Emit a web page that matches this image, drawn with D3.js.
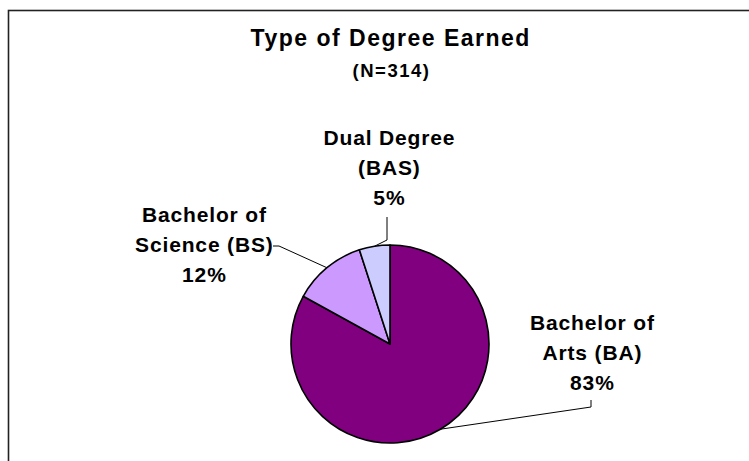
<!DOCTYPE html>
<html>
<head>
<meta charset="utf-8">
<script src="https://cdn.jsdelivr.net/npm/d3@7"></script>
<style>
  html, body { margin: 0; padding: 0; background: #fff; }
  svg { display: block; }
  text { font-family: "Liberation Sans", Arial, sans-serif; font-weight: bold; fill: #000; }
</style>
</head>
<body>
<svg id="chart" width="749" height="461"></svg>
<script>
// ---- Data ----
const titleText = "Type of Degree Earned";
const subtitleText = "(N=314)";
const categories = ["Bachelor of Arts (BA)", "Bachelor of Science (BS)", "Dual Degree (BAS)"];
const values = [83, 12, 5];
const labelLines = [
  ["Bachelor of", "Arts (BA)", "83%"],
  ["Bachelor of", "Science (BS)", "12%"],
  ["Dual Degree", "(BAS)", "5%"]
];
const colors = ["#800080", "#CC99FF", "#CCCCFF"];

// ---- Layout ----
const W = 749, H = 461;
const cx = 390, cy = 344, R = 99;
const labelFont = 21, lineGap = 30;
// label block: center x, first baseline y, leader anchor points (label side)
const labelLayout = [
  { x: 592, y: 330, anchor: [[591, 400], [591, 407]] },
  { x: 204, y: 222, anchor: [[273, 246], [279, 246]] },
  { x: 389, y: 145, anchor: [[387, 217], [387, 240]] }
];

const svg = d3.select("#chart");

// chart area border (extends beyond the visible window)
svg.append("rect")
  .attr("x", 8.5).attr("y", 10.5)
  .attr("width", 800).attr("height", 500)
  .attr("fill", "#fff")
  .attr("stroke", "#222").attr("stroke-width", 1.6);

// title
svg.append("text")
  .attr("x", cx + 0.75).attr("y", 46)
  .attr("text-anchor", "middle")
  .style("font-size", "23px").style("letter-spacing", "1.5px")
  .text(titleText);
svg.append("text")
  .attr("x", cx + 1.5).attr("y", 77)
  .attr("text-anchor", "middle")
  .style("font-size", "18.5px").style("letter-spacing", "1.5px")
  .text(subtitleText);

const pie = d3.pie().sort(null).value(d => d).startAngle(0).endAngle(2 * Math.PI);
const arcs = pie(values);
const arc = d3.arc().innerRadius(0).outerRadius(R);
const edge = d3.arc().innerRadius(R).outerRadius(R);

const g = svg.append("g").attr("transform", `translate(${cx},${cy})`);
g.selectAll("path.slice")
  .data(arcs)
  .join("path")
  .attr("class", "slice")
  .attr("d", arc)
  .attr("fill", (d, i) => colors[i])
  .attr("stroke", "#000")
  .attr("stroke-width", 1.6)
  .attr("stroke-linejoin", "round");

// leader lines
const line = d3.line();
arcs.forEach((d, i) => {
  const c = edge.centroid(d);
  const pts = [[cx + c[0], cy + c[1]]].concat(labelLayout[i].anchor.slice().reverse());
  svg.append("path")
    .attr("d", line(pts))
    .attr("fill", "none")
    .attr("stroke", "#000")
    .attr("stroke-width", 1);
});

// labels
labelLines.forEach((lines, i) => {
  const L = labelLayout[i];
  const t = svg.append("text")
    .attr("text-anchor", "middle")
    .style("font-size", labelFont + "px")
    .style("letter-spacing", "0.85px");
  lines.forEach((s, j) => {
    t.append("tspan").attr("x", L.x + 0.4).attr("y", L.y + j * lineGap).text(s);
  });
});
</script>
</body>
</html>
